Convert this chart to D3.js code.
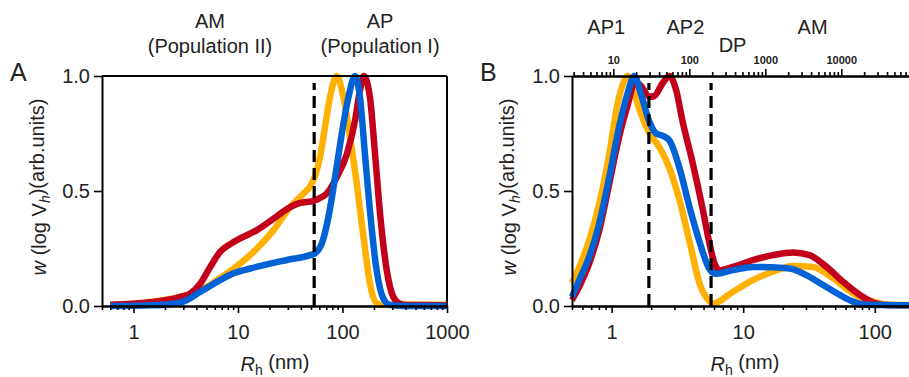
<!DOCTYPE html>
<html>
<head>
<meta charset="utf-8">
<script src="https://cdn.jsdelivr.net/npm/d3@7"></script>
<style>
  body { margin: 0; background: #fff; }
  svg { display: block; font-family: "Liberation Sans", Arial, sans-serif; }
</style>
</head>
<body>
<div id="chart"></div>
<script>
// panel A, each point is [Rh (nm), w]
const aYellow = [[0.6,0.004],[1.0,0.01],[1.5,0.018],[2.1,0.028],[3.0,0.042],[4.06,0.063],[5.06,0.084],[6.3,0.113],[7.85,0.142],[10.5,0.185],[15.2,0.25],[21.9,0.33],[31.6,0.43],[42.4,0.489],[49,0.52],[54.6,0.565],[61,0.648],[68,0.778],[76,0.908],[88,1.0],[102,0.908],[118,0.735],[137,0.532],[159,0.30],[183,0.098],[212,0.012],[250,0.004],[400,0.005],[1000,0.005]];
const aRed = [[0.6,0.005],[1.0,0.01],[1.45,0.016],[2.1,0.026],[2.8,0.04],[3.5,0.055],[4.37,0.098],[5.43,0.17],[6.77,0.236],[8.44,0.269],[10.5,0.294],[15.2,0.33],[21.9,0.38],[31.6,0.43],[39.4,0.448],[52.7,0.457],[61,0.47],[70.8,0.489],[88,0.56],[110,0.66],[132,0.807],[147,0.937],[160,1.0],[183,0.908],[205,0.66],[229,0.40],[265,0.156],[306,0.04],[355,0.01],[420,0.004],[1000,0.003]];
const aBlue = [[0.6,0.0],[1.45,0.003],[2.2,0.008],[3.0,0.019],[4.37,0.062],[6.3,0.105],[9.08,0.142],[13.1,0.163],[18.9,0.181],[29.4,0.20],[49,0.221],[54.6,0.229],[63.4,0.272],[73.4,0.387],[85,0.56],[98.5,0.749],[114,0.908],[132,1.0],[147,0.908],[164,0.66],[183,0.416],[212,0.156],[246,0.033],[285,0.005],[400,0.0],[1000,0.0]];

// panel B
const bYellow = [[0.5,0.1],[0.568,0.17],[0.676,0.286],[0.806,0.446],[0.96,0.66],[1.11,0.88],[1.25,0.98],[1.32,1.0],[1.49,0.923],[1.67,0.836],[1.94,0.75],[2.31,0.69],[2.75,0.6],[3.28,0.46],[3.91,0.28],[4.65,0.1],[5.55,0.02],[5.88,0.01],[8.35,0.062],[11.9,0.113],[16.8,0.149],[23.9,0.174],[33.9,0.17],[48.2,0.12],[68.4,0.055],[97.3,0.019],[130,0.005],[182,0.004]];
const bRed = [[0.5,0.026],[0.568,0.084],[0.676,0.185],[0.806,0.33],[0.96,0.532],[1.14,0.735],[1.32,0.87],[1.5,0.97],[1.62,0.965],[1.94,0.91],[2.1,0.912],[2.45,0.97],[2.75,1.0],[3.09,0.94],[3.47,0.8],[4.14,0.62],[4.93,0.42],[5.55,0.27],[6.1,0.18],[6.6,0.155],[8.35,0.17],[11.9,0.20],[16.8,0.221],[23.9,0.233],[32,0.221],[43,0.17],[57.5,0.105],[77,0.048],[103,0.01],[130,0.003],[182,0.003]];
const bBlue = [[0.5,0.04],[0.568,0.113],[0.676,0.214],[0.806,0.359],[0.96,0.56],[1.14,0.778],[1.32,0.923],[1.49,1.0],[1.67,0.923],[1.94,0.8],[2.18,0.75],[2.45,0.74],[2.75,0.72],[3.28,0.6],[3.91,0.43],[4.65,0.28],[5.55,0.16],[6.2,0.14],[8.35,0.156],[11.9,0.17],[16.8,0.168],[22.6,0.163],[30.2,0.134],[40.5,0.091],[54.2,0.048],[68.4,0.019],[86.5,0.005],[182,0.003]];

const yTicks = [0, 0.5, 1.0];
const aXTicks = [1, 10, 100, 1000];
const bXTicks = [1, 10, 100];
const bTopTicks = [10, 100, 1000, 10000];
const aDividers = [53.6];
const bDividers = [1.92, 5.7];
// region names, x given in Rh (nm) on the bottom scale
const aLabels = [
  { text: 'AM', x: 5.4, line: 0 },
  { text: '(Population II)', x: 5.4, line: 1 },
  { text: 'AP', x: 229, line: 0 },
  { text: '(Population I)', x: 229, line: 1 }
];
const bLabels = [
  { text: 'AP1', x: 0.91, line: 0 },
  { text: 'AP2', x: 3.64, line: 0 },
  { text: 'DP', x: 8.3, line: 0.72 },
  { text: 'AM', x: 33.7, line: 0 }
];

const colors = { yellow: '#ffb000', red: '#c3001c', blue: '#0062d4' };

const width = 909;
const height = 377;

const svg = d3.select('#chart').append('svg')
  .attr('width', width)
  .attr('height', height);

const y = d3.scaleLinear().domain([0, 1]).range([306, 76]);

function minorTicks(scale) {
  const [lo, hi] = scale.domain();
  const out = [];
  for (let e = Math.floor(Math.log10(lo)); e <= Math.ceil(Math.log10(hi)); e++) {
    for (let m = 2; m <= 9; m++) {
      const v = m * Math.pow(10, e);
      if (v >= lo && v <= hi) out.push(v);
    }
  }
  return out;
}

function styleAxis(g) {
  g.select('.domain').attr('stroke-width', 2);
  g.selectAll('.tick line').attr('stroke-width', 1.6);
  g.selectAll('.tick text').attr('fill', '#222');
}

function drawPanel(opt) {
  const x = d3.scaleLog().domain(opt.domain).range([opt.left, opt.right]);
  const g = svg.append('g');

  const line = d3.line()
    .x((d) => x(d[0]))
    .y((d) => y(d[1]))
    .curve(d3.curveMonotoneX);

  // curves: yellow under red under blue
  [['yellow', opt.series[0]], ['red', opt.series[1]], ['blue', opt.series[2]]].forEach(([c, data]) => {
    g.append('path')
      .datum(data)
      .attr('fill', 'none')
      .attr('stroke', colors[c])
      .attr('stroke-width', 6.5)
      .attr('stroke-linejoin', 'round')
      .attr('d', line);
  });

  // dashed dividers
  g.selectAll('.divider')
    .data(opt.dividers)
    .enter().append('line')
    .attr('class', 'divider')
    .attr('x1', (d) => x(d)).attr('x2', (d) => x(d))
    .attr('y1', y(0)).attr('y2', y(0.97))
    .attr('stroke', '#000')
    .attr('stroke-width', 3.2)
    .attr('stroke-dasharray', '12,6');

  // bottom axis: minor then major
  g.append('g')
    .attr('transform', 'translate(0,' + y(0) + ')')
    .call(d3.axisBottom(x).tickValues(minorTicks(x)).tickSize(4).tickSizeOuter(0).tickFormat(''))
    .call(styleAxis);
  g.append('g')
    .attr('transform', 'translate(0,' + y(0) + ')')
    .call(d3.axisBottom(x).tickValues(opt.xTicks).tickSize(7).tickSizeOuter(0).tickPadding(12).tickFormat(d3.format('d')))
    .call(styleAxis)
    .selectAll('text').style('font-size', '20px');

  // left axis
  g.append('g')
    .attr('transform', 'translate(' + opt.left + ',0)')
    .call(d3.axisLeft(y).tickValues(yTicks).tickSize(8).tickSizeOuter(0).tickPadding(4).tickFormat(d3.format('.1f')))
    .call(styleAxis)
    .selectAll('text').style('font-size', '20px');

  if (opt.box) {
    g.append('line')
      .attr('x1', opt.left).attr('x2', opt.right)
      .attr('y1', y(1)).attr('y2', y(1))
      .attr('stroke', '#000').attr('stroke-width', 2);
    g.append('line')
      .attr('x1', opt.right).attr('x2', opt.right)
      .attr('y1', y(1)).attr('y2', y(0))
      .attr('stroke', '#000').attr('stroke-width', 2);
  }

  if (opt.topDomain) {
    const xt = d3.scaleLog().domain(opt.topDomain).range([opt.left, opt.right]);
    g.append('g')
      .attr('transform', 'translate(0,' + y(1) + ')')
      .call(d3.axisTop(xt).tickValues(minorTicks(xt)).tickSize(4).tickSizeOuter(0).tickFormat(''))
      .call(styleAxis);
    g.append('g')
      .attr('transform', 'translate(0,' + y(1) + ')')
      .call(d3.axisTop(xt).tickValues(opt.topTicks).tickSize(7).tickSizeOuter(0).tickPadding(5).tickFormat(d3.format('d')))
      .call(styleAxis)
      .selectAll('text').style('font-size', '11px').style('font-weight', 'bold');
  }

  // region labels above the plot
  g.selectAll('.region')
    .data(opt.labels)
    .enter().append('text')
    .attr('class', 'region')
    .attr('x', (d) => x(d.x))
    .attr('y', (d) => opt.labelY + d.line * 25)
    .attr('text-anchor', 'middle')
    .style('font-size', '20px')
    .attr('fill', '#222')
    .text((d) => d.text);

  // panel letter
  g.append('text')
    .attr('x', opt.left - 92)
    .attr('y', 81)
    .style('font-size', '25px')
    .attr('fill', '#222')
    .text(opt.letter);

  // y axis title
  const yt = g.append('text')
    .attr('transform', 'translate(' + (opt.left - 56) + ',' + 187 + ') rotate(-90)')
    .attr('text-anchor', 'middle')
    .style('font-size', '20px')
    .attr('fill', '#222');
  yt.append('tspan').style('font-style', 'italic').text('w');
  yt.append('tspan').text(' (log V');
  yt.append('tspan').style('font-style', 'italic').style('font-size', '14px').attr('dy', '0.3em').text('h');
  yt.append('tspan').attr('dy', '-0.3em').text(')(arb.units)');

  // x axis title
  const xt2 = g.append('text')
    .attr('x', opt.xTitle)
    .attr('y', 371)
    .attr('text-anchor', 'middle')
    .style('font-size', '20px')
    .attr('fill', '#222');
  xt2.append('tspan').style('font-style', 'italic').text('R');
  xt2.append('tspan').style('font-size', '14px').attr('dy', '0.3em').text('h');
  xt2.append('tspan').attr('dy', '-0.3em').text(' (nm)');
}

drawPanel({
  letter: 'A', left: 102, right: 447, domain: [0.5, 1000],
  series: [aYellow, aRed, aBlue], dividers: aDividers, xTicks: aXTicks,
  box: true, labels: aLabels, labelY: 28, xTitle: 275
});

drawPanel({
  letter: 'B', left: 572, right: 909, domain: [0.5, 182],
  series: [bYellow, bRed, bBlue], dividers: bDividers, xTicks: bXTicks,
  topDomain: [2.86, 77800], topTicks: bTopTicks,
  labels: bLabels, labelY: 34, xTitle: 745
});
</script>
</body>
</html>
